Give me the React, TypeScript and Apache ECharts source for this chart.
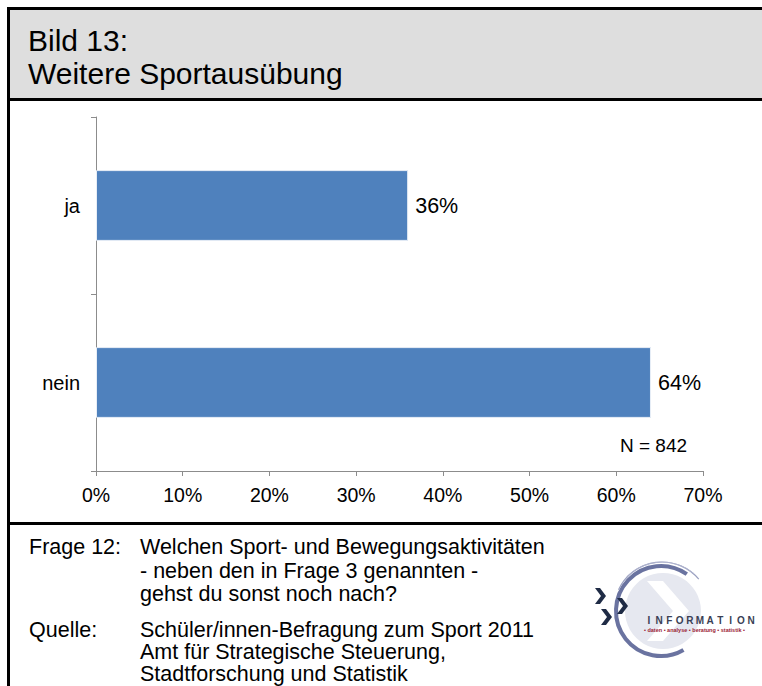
import React, { useEffect, useRef } from "react";
import * as echarts from "echarts";

const categories = ["ja", "nein"];
const values = [36, 64];
const xTicks = [0, 10, 20, 30, 40, 50, 60, 70];
const titleLines = ["Bild 13:", "Weitere Sportausübung"];
const noteText = "N = 842";
const frageLabel = "Frage 12:";
const frageLines = [
  "Welchen Sport- und Bewegungsaktivitäten",
  "- neben den in Frage 3 genannten -",
  "gehst du sonst noch nach?",
];
const quelleLabel = "Quelle:";
const quelleLines = [
  "Schüler/innen-Befragung zum Sport 2011",
  "Amt für Strategische Steuerung,",
  "Stadtforschung und Statistik",
];
const logoWord = "INFORMATION";
const logoSub = "• daten • analyse • beratung • statistik •";

const FONT = "'Liberation Sans', Arial, sans-serif";

export default function App() {
  const ref = useRef<HTMLDivElement>(null);

  useEffect(() => {
    if (!ref.current) return;
    const chart = echarts.init(ref.current, undefined, { renderer: "svg" });

    const graphics: any[] = [];
    graphics.push({
      type: "rect",
      shape: { x: 8, y: 8, width: 800, height: 91 },
      style: { fill: "#dedede", stroke: "none" },
      z: 0,
    });
    graphics.push({
      type: "rect",
      shape: { x: 8.5, y: 8.5, width: 800, height: 720 },
      style: { fill: "none", stroke: "#000", lineWidth: 3 },
      z: 10,
    });
    graphics.push({
      type: "line",
      shape: { x1: 8, y1: 99.5, x2: 800, y2: 99.5 },
      style: { stroke: "#000", lineWidth: 3 },
      z: 10,
    });
    graphics.push({
      type: "line",
      shape: { x1: 8, y1: 523.5, x2: 800, y2: 523.5 },
      style: { stroke: "#000", lineWidth: 3 },
      z: 10,
    });
    titleLines.forEach((t, i) => {
      graphics.push({
        type: "text",
        x: 28,
        y: 40 + i * 33,
        style: {
          text: t,
          font: `30px ${FONT}`,
          fill: "#000",
          textVerticalAlign: "middle",
        },
        z: 11,
      });
    });
    graphics.push({
      type: "text",
      x: 620,
      y: 445,
      style: { text: noteText, font: `19px ${FONT}`, fill: "#000", textVerticalAlign: "middle" },
    });
    const FS = 21.5;
    graphics.push({
      type: "text",
      x: 29,
      y: 547,
      style: { text: frageLabel, font: `${FS}px ${FONT}`, fill: "#000", textVerticalAlign: "middle" },
    });
    frageLines.forEach((t, i) => {
      graphics.push({
        type: "text",
        x: 140,
        y: 547 + i * 23.5,
        style: { text: t, font: `${FS}px ${FONT}`, fill: "#000", textVerticalAlign: "middle" },
      });
    });
    graphics.push({
      type: "text",
      x: 29,
      y: 630,
      style: { text: quelleLabel, font: `${FS}px ${FONT}`, fill: "#000", textVerticalAlign: "middle" },
    });
    quelleLines.forEach((t, i) => {
      graphics.push({
        type: "text",
        x: 140,
        y: 630 + i * 22,
        style: { text: t, font: `${FS}px ${FONT}`, fill: "#000", textVerticalAlign: "middle" },
      });
    });

    // logo
    const cx = 661;
    const cy = 611;
    const logo: any[] = [
      {
        type: "circle",
        shape: { cx: cx + 2, cy: cy, r: 38 },
        style: { fill: "#e6e8f0" },
      },
      {
        type: "polygon",
        shape: {
          points: [
            [cx - 14, cy - 30],
            [cx + 2, cy - 30],
            [cx + 28, cy],
            [cx + 2, cy + 30],
            [cx - 14, cy + 30],
            [cx + 12, cy],
          ],
        },
        style: { fill: "#ffffff" },
      },
      {
        type: "arc",
        shape: { cx, cy, r: 45, startAngle: (60 * Math.PI) / 180, endAngle: (305 * Math.PI) / 180, clockwise: true },
        style: { stroke: "#6a73a0", lineWidth: 4, fill: "none" },
      },
      {
        type: "arc",
        shape: { cx: cx + 1, cy: cy - 1, r: 48, startAngle: (205 * Math.PI) / 180, endAngle: (320 * Math.PI) / 180, clockwise: true },
        style: { stroke: "#9aa0c0", lineWidth: 1.2, fill: "none" },
      },
      {
        type: "arc",
        shape: { cx: cx + 1, cy: cy + 1, r: 50, startAngle: (225 * Math.PI) / 180, endAngle: (310 * Math.PI) / 180, clockwise: true },
        style: { stroke: "#b5b9d2", lineWidth: 0.8, fill: "none" },
      },
    ];
    const chevron = (x: number, y: number) => ({
      type: "polygon",
      shape: {
        points: [
          [x, y],
          [x + 5, y],
          [x + 11, y + 8],
          [x + 5, y + 16],
          [x, y + 16],
          [x + 6, y + 8],
        ],
      },
      style: { fill: "#1f2b45" },
    });
    logo.push(chevron(595, 588));
    logo.push(chevron(617, 598));
    logo.push(chevron(601, 609));
    logoWord.split("").forEach((ch, i) => {
      logo.push({
        type: "text",
        x: 649 + i * 10.2,
        y: 620,
        style: {
          text: ch,
          font: `bold 10px ${FONT}`,
          fill: "#3a3f55",
          textAlign: "center",
          textVerticalAlign: "middle",
        },
      });
    });
    logo.push({
      type: "text",
      x: 644,
      y: 629.5,
      style: {
        text: logoSub,
        font: `bold 5.5px ${FONT}`,
        fill: "#9b2335",
        textVerticalAlign: "middle",
      },
    });
    graphics.push({ type: "group", children: logo });

    chart.setOption({
      animation: false,
      backgroundColor: "#ffffff",
      textStyle: { fontFamily: FONT },
      grid: { left: 96, right: 59, top: 117, bottom: 215, containLabel: false },
      xAxis: {
        type: "value",
        min: xTicks[0],
        max: xTicks[xTicks.length - 1],
        interval: 10,
        axisLine: { show: true, lineStyle: { color: "#8c8c8c", width: 1 } },
        axisTick: { show: true, length: 5, lineStyle: { color: "#8c8c8c" } },
        splitLine: { show: false },
        axisLabel: {
          formatter: "{value}%",
          fontSize: 19.5,
          color: "#000",
          margin: 14,
          fontFamily: FONT,
        },
      },
      yAxis: {
        type: "category",
        data: categories,
        inverse: true,
        axisLine: { show: true, lineStyle: { color: "#8c8c8c", width: 1 } },
        axisTick: { show: true, length: 5, lineStyle: { color: "#8c8c8c" } },
        axisLabel: { fontSize: 20, color: "#000", margin: 16, fontFamily: FONT },
      },
      series: [
        {
          type: "bar",
          data: values,
          barCategoryGap: "60%",
          itemStyle: { color: "#4f81bd", borderColor: "#e8eef6", borderWidth: 1 },
          label: {
            show: true,
            position: "right",
            distance: 7,
            formatter: "{c}%",
            fontSize: 21.5,
            color: "#000",
            fontFamily: FONT,
          },
        },
      ],
      graphic: graphics,
    });

    return () => chart.dispose();
  }, []);

  return (
    <div
      ref={ref}
      style={{ position: "fixed", left: 0, top: 0, width: 762, height: 686 }}
    />
  );
}
